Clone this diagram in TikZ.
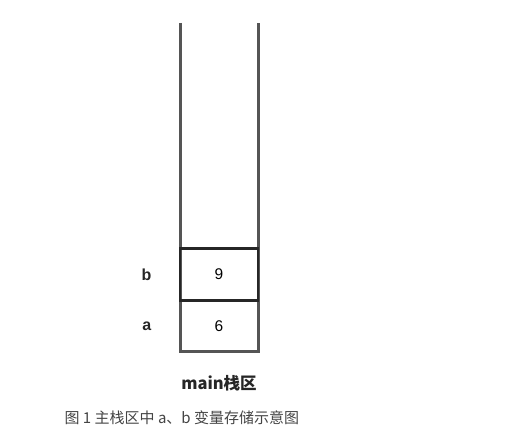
\documentclass[tikz,border=0pt]{standalone}
\usepackage{fontspec}
\setmainfont{Noto Sans CJK SC}
\newfontfamily\arialike{Liberation Sans}
\usepackage{xcolor}
\usepackage{tikz}
\usetikzlibrary{calc}
\usetikzlibrary{positioning}

\definecolor{wallgray}{HTML}{555555}
\definecolor{capgray}{HTML}{444444}

\begin{document}
\begin{tikzpicture}[x=1pt,y=-1pt,node distance=30pt,semithick]
 				 \tikzstyle{cell}=[rectangle, minimum width=78pt, minimum height=51.5pt, inner sep=0pt, outer sep=0pt, font=\arialike\fontsize{15.5}{15.5}\selectfont]
 				 \tikzstyle{var}=[font=\arialike\bfseries\fontsize{16}{16}\selectfont, text=black!85]
 				 \tikzstyle{wall}=[draw=wallgray, line width=3pt]
 				 \tikzstyle{box}=[draw=black!85, line width=2.8pt]
 				 \useasboundingbox (0,0) rectangle (509,444);
 					 \node[cell] (cellA) at (219,326) {6};
 					 \node[cell] (cellB) [above=0pt of cellA] {9};
 					 \node[var] (labA) [left=25pt of cellA] {a};
 					 \node[var] (labB) [left=25pt of cellB] {b};
 					 \coordinate (topL) at (180,23);
 					 \coordinate (topR) at (258,23);
 					 \path[wall] (topL) -- (cellA.south west) -- (cellA.south east) -- (topR);
 					 \path[box] (cellB.north west) rectangle (cellA.north east);
 					 \node[font=\fontsize{16.5}{16.5}\selectfont\bfseries, text=black!85] (stack) [below=20pt of cellA] {main栈区};
 					 \node[text=capgray, font=\fontsize{15}{15}\selectfont, anchor=west] (caption) at (61,418) {图 1 主栈区中 a、b 变量存储示意图};
				\end{tikzpicture}
\end{document}
